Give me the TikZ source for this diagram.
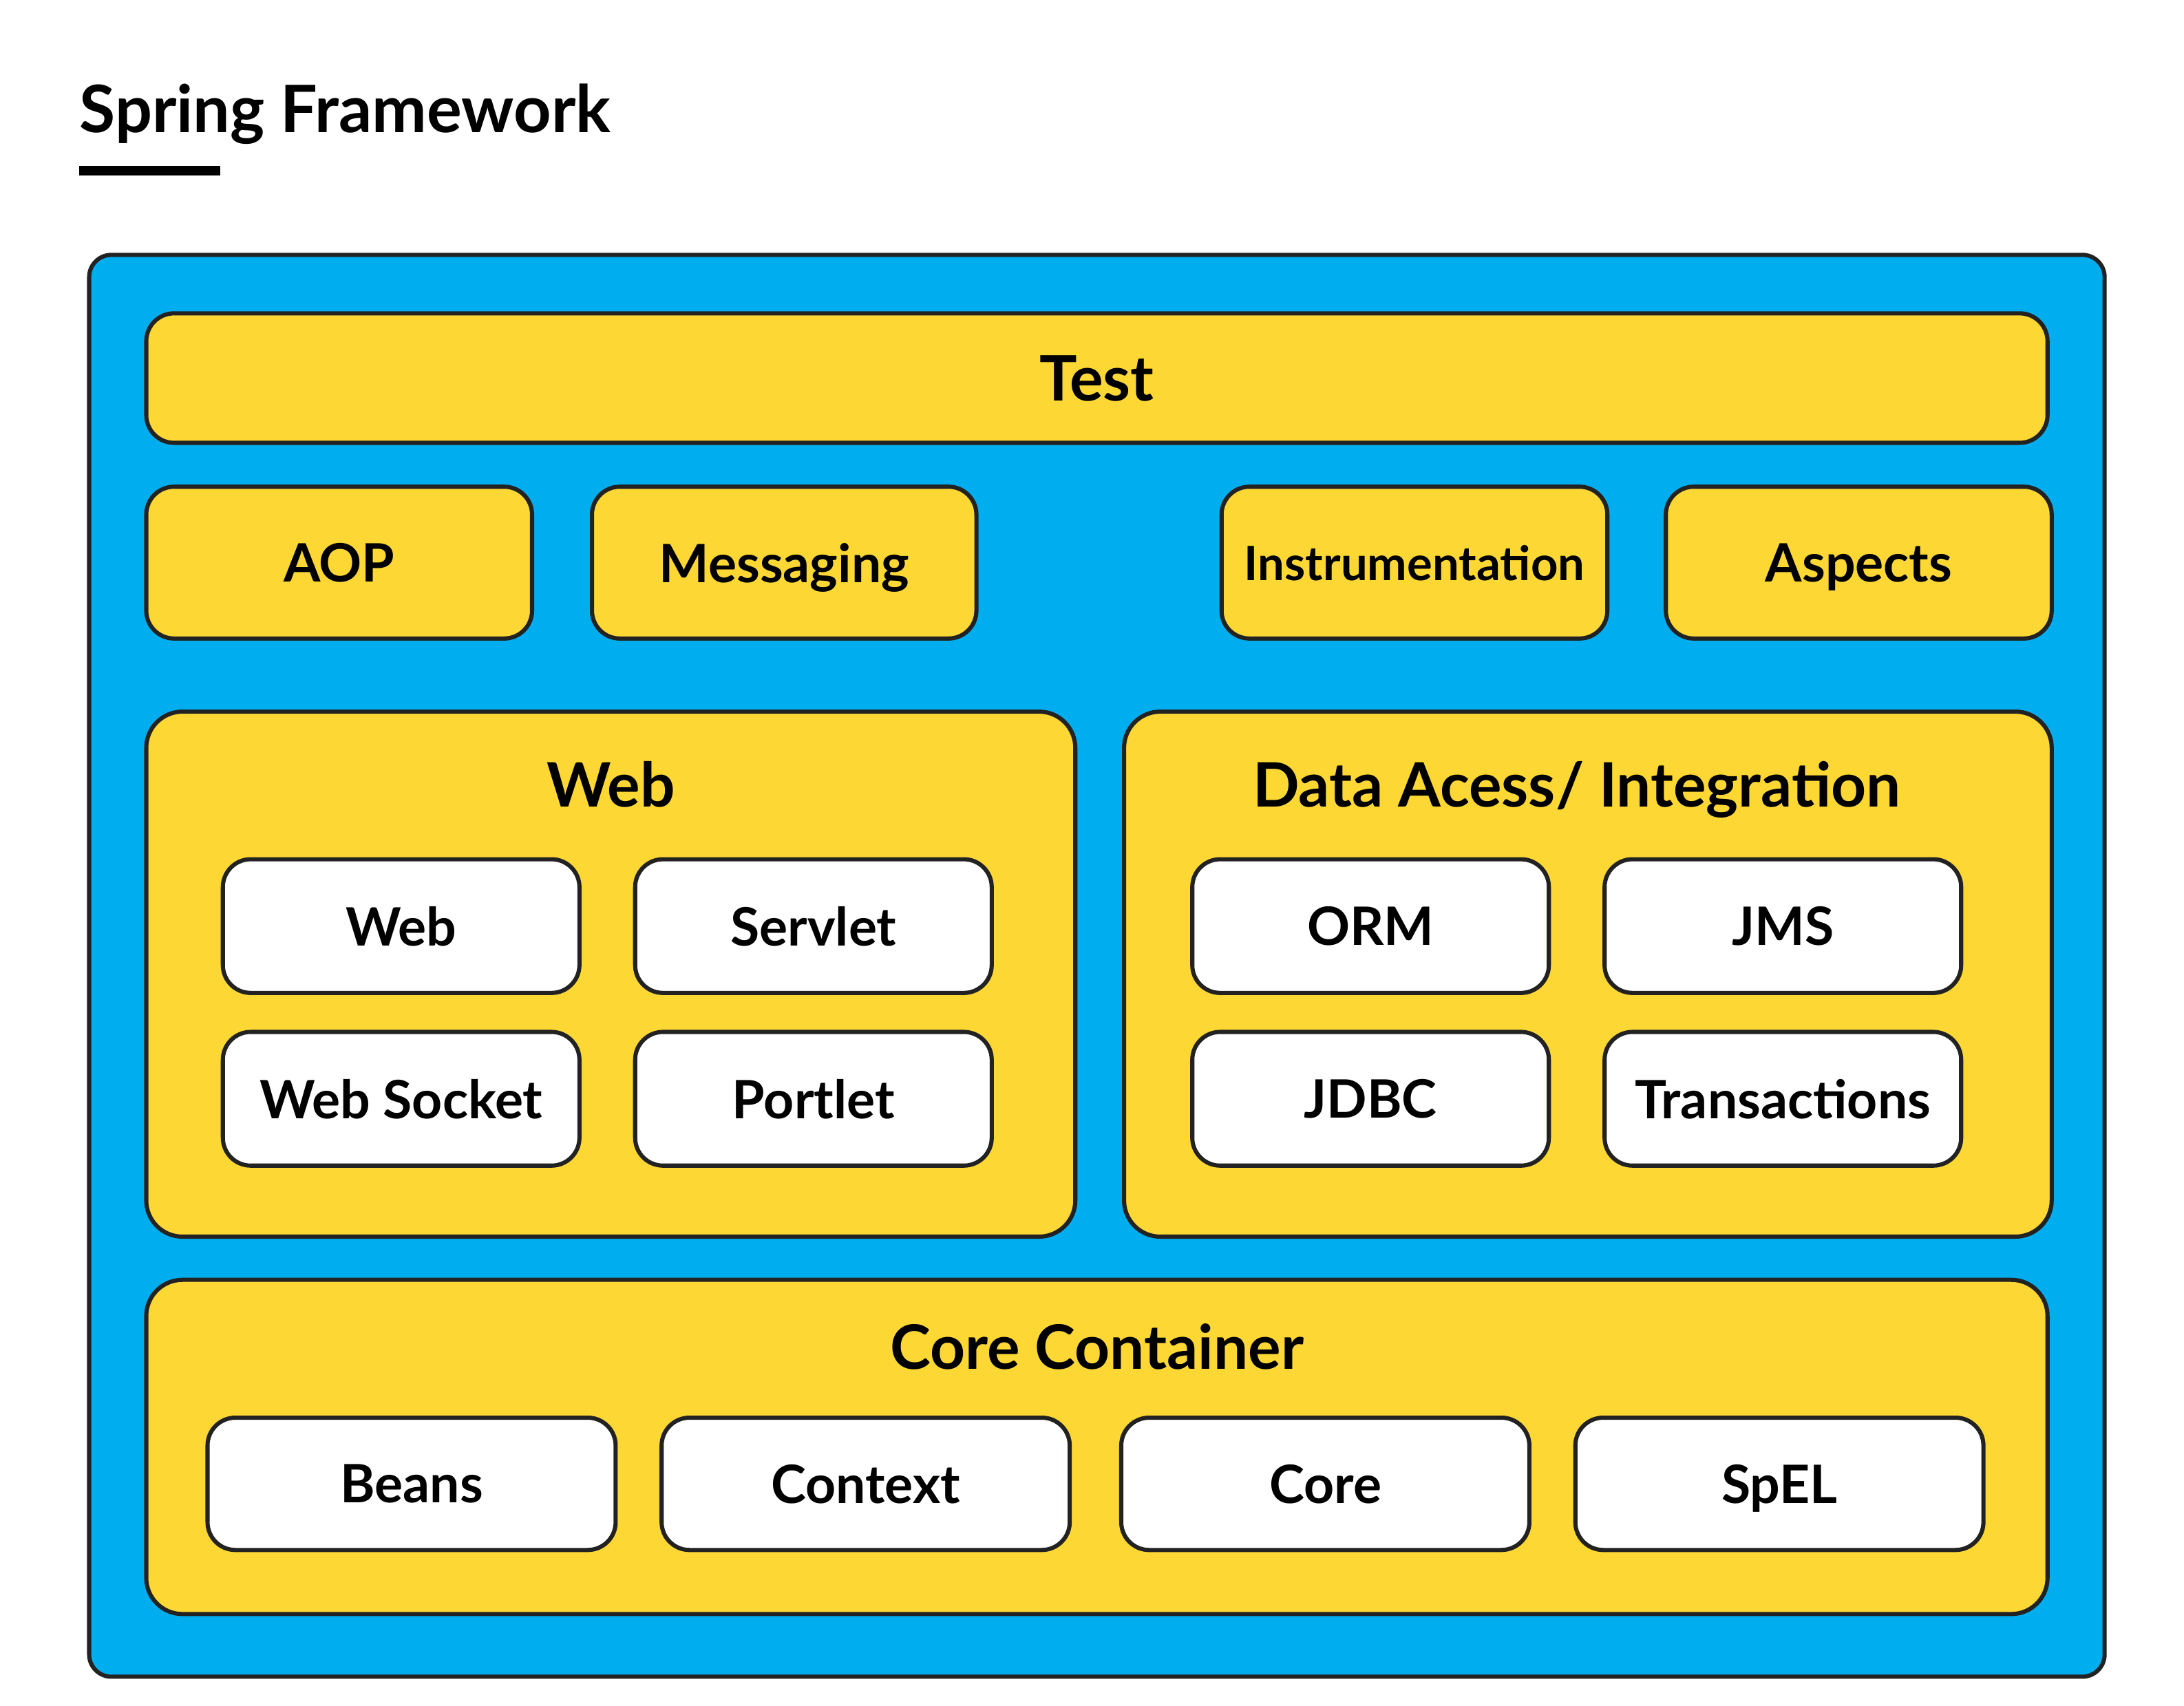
\documentclass[tikz,border=0pt]{standalone}
\usepackage{fontspec}
\setmainfont{Lato}
\definecolor{sblue}{RGB}{0,174,239}
\definecolor{syellow}{RGB}{253,216,53}
\definecolor{sline}{RGB}{34,34,34}
\tikzset{
  outerbox/.style={draw=sline, line width=3pt, fill=sblue, rounded corners=16pt, inner sep=0pt},
  ybox/.style={draw=sline, line width=3pt, fill=syellow, rounded corners=20pt, inner sep=0pt, text depth=0pt, font=\fontsize{38}{44}\selectfont\bfseries},
  panel/.style={draw=sline, line width=3pt, fill=syellow, rounded corners=26pt, inner sep=0pt},
  wbox/.style={draw=sline, line width=3pt, fill=white, rounded corners=20pt, inner sep=0pt, text depth=0pt, minimum width=256pt, minimum height=96pt, font=\fontsize{38}{44}\selectfont\bfseries},
  cbox/.style={wbox, minimum width=293pt, minimum height=95pt},
  ptitle/.style={inner sep=0pt, text depth=0pt, font=\fontsize{44}{50}\selectfont\bfseries},
}
\begin{document}
\begin{tikzpicture}[x=1pt,y=-1pt]
\useasboundingbox (0,0) rectangle (1568,1225);
\node[anchor=base west, inner sep=0pt, font=\fontsize{47}{52}\selectfont\bfseries] (title) at (57,95) {Spring Framework};
\fill (57,119) rectangle (158,126);
\node[outerbox, minimum width=1447pt, minimum height=1021pt] (outer) at (787.5,693.5) {};
\node[ybox, minimum width=1365pt, minimum height=93pt, font=\fontsize{45}{50}\selectfont\bfseries] (test) at (787.5,271.5) {Test};
\node[ybox, minimum width=277pt, minimum height=109pt] (aop) at (243.5,404) {AOP};
\node[ybox, minimum width=276pt, minimum height=109pt] (msg) at (563,404) {Messaging};
\node[ybox, minimum width=277pt, minimum height=109pt, font=\fontsize{34}{40}\selectfont\bfseries] (instr) at (1015.5,404) {Instrumentation};
\node[ybox, minimum width=277pt, minimum height=109pt] (asp) at (1334.5,404) {Aspects};
\node[panel, minimum width=667pt, minimum height=377pt] (webp) at (438.5,699.5) {};
\node[ptitle] (webt) at (438.5,563) {Web};
\node[panel, minimum width=666pt, minimum height=377pt] (datap) at (1140,699.5) {};
\node[ptitle] (datat) at (1132,563) {Data Acess/ Integration};
\node[wbox] (web) at (288,665) {Web};
\node[wbox] (servlet) at (584,665) {Servlet};
\node[wbox] (socket) at (288,789) {Web Socket};
\node[wbox] (portlet) at (584,789) {Portlet};
\node[wbox] (orm) at (984,665) {ORM};
\node[wbox] (jms) at (1280,665) {JMS};
\node[wbox] (jdbc) at (984,789) {JDBC};
\node[wbox] (trans) at (1280,789) {Transactions};
\node[panel, minimum width=1365pt, minimum height=240pt] (corep) at (787.5,1039) {};
\node[ptitle] (coret) at (787.5,967) {Core Container};
\node[cbox] (beans) at (295.5,1065.5) {Beans};
\node[cbox] (context) at (621.5,1065.5) {Context};
\node[cbox] (core) at (951.5,1065.5) {Core};
\node[cbox] (spel) at (1277.5,1065.5) {SpEL};
\end{tikzpicture}
\end{document}
